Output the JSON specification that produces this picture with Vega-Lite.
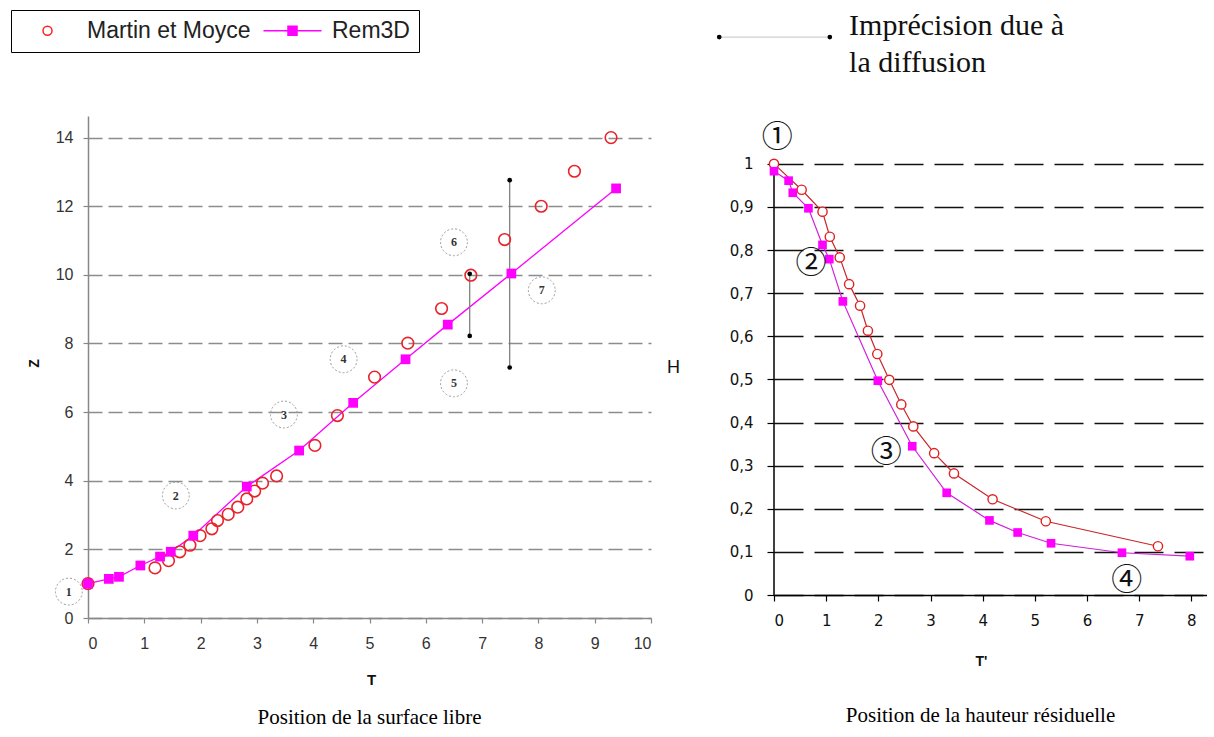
{
  "$schema": "https://vega.github.io/schema/vega-lite/v6.json",
  "background": "white",
  "padding": {"left": 10, "top": 9, "right": 0, "bottom": 0},
  "bounds": "flush",
  "spacing": 123,
  "config": {
    "view": {"stroke": null},
    "axis": {"labelFont": "Liberation Sans", "titleFont": "Liberation Sans"},
    "title": {"font": "Liberation Serif", "fontSize": 21, "fontWeight": "normal", "color": "black", "orient": "bottom", "anchor": "middle", "frame": "group"}
  },
  "hconcat": [
    {
      "width": 563,
      "height": 502,
      "title": {"text": "Position de la surface libre", "offset": 19},
      "layer": [
        {
          "data": {"values": [
            {"T": 0, "Z": 1.0}, {"T": 0.37, "Z": 1.14}, {"T": 0.55, "Z": 1.2}, {"T": 0.93, "Z": 1.53},
            {"T": 1.28, "Z": 1.79}, {"T": 1.47, "Z": 1.93}, {"T": 1.87, "Z": 2.4}, {"T": 2.82, "Z": 3.83},
            {"T": 3.75, "Z": 4.88}, {"T": 4.71, "Z": 6.27}, {"T": 5.64, "Z": 7.54}, {"T": 6.39, "Z": 8.55},
            {"T": 7.52, "Z": 10.04}, {"T": 9.38, "Z": 12.52}
          ]},
          "mark": {"type": "line", "color": "#ff00ff", "strokeWidth": 1.3},
          "encoding": {
            "x": {"field": "T", "type": "quantitative", "scale": {"domain": [0, 10], "nice": false, "zero": false},
              "axis": {"values": [0,1,2,3,4,5,6,7,8,9,10], "format": "d", "title": "T", "titleFontWeight": "bold", "titleFontSize": 15, "titleColor": "#111",
                "titleX": 283, "titleY": 61.5, "titleBaseline": "middle", "titleAlign": "center",
                "domainColor": "#888", "domainWidth": 1.5, "tickColor": "#888", "tickSize": 5, "tickWidth": 1.2,
                "labelPadding": 12, "labelFontSize": 16, "labelColor": "#333", "grid": false}},
            "y": {"field": "Z", "type": "quantitative", "scale": {"domain": [0, 14.63], "nice": false, "zero": false},
              "axis": {"values": [0,2,4,6,8,10,12,14], "format": "d", "title": "Z", "titleFontWeight": "bold", "titleFontSize": 14, "titleColor": "#111",
                "titleX": -54, "titleY": 247, "titleAngle": -90, "titleBaseline": "middle", "titleAlign": "center",
                "grid": true, "gridDash": [14, 6], "gridColor": "#8c8c8c", "gridWidth": 1.5,
                "domainColor": "#888", "domainWidth": 1.5, "tickColor": "#888", "tickSize": 5, "tickWidth": 1.2,
                "labelPadding": 10, "labelFontSize": 16, "labelColor": "#333"}}
          }
        },
        {
          "data": {"values": [
            {"T": 6.78, "Z": 8.22, "Z2": 10.03},
            {"T": 7.49, "Z": 7.3, "Z2": 12.76}
          ]},
          "mark": {"type": "rule", "color": "#777", "strokeWidth": 1.2},
          "encoding": {
            "x": {"field": "T", "type": "quantitative"},
            "y": {"field": "Z", "type": "quantitative"},
            "y2": {"field": "Z2"}
          }
        },
        {
          "data": {"values": [
            {"T": 6.78, "Z": 8.22}, {"T": 6.78, "Z": 10.03},
            {"T": 7.49, "Z": 7.3}, {"T": 7.49, "Z": 12.76}
          ]},
          "mark": {"type": "point", "filled": true, "color": "black", "size": 22, "opacity": 1},
          "encoding": {
            "x": {"field": "T", "type": "quantitative"},
            "y": {"field": "Z", "type": "quantitative"}
          }
        },
        {
          "data": {"values": [
            {"T": 0, "Z": 1.0}, {"T": 1.19, "Z": 1.46}, {"T": 1.43, "Z": 1.67}, {"T": 1.63, "Z": 1.93},
            {"T": 1.81, "Z": 2.12}, {"T": 1.99, "Z": 2.4}, {"T": 2.2, "Z": 2.6}, {"T": 2.3, "Z": 2.84},
            {"T": 2.49, "Z": 3.02}, {"T": 2.66, "Z": 3.23}, {"T": 2.82, "Z": 3.47}, {"T": 2.96, "Z": 3.7},
            {"T": 3.1, "Z": 3.93}, {"T": 3.35, "Z": 4.14}, {"T": 4.03, "Z": 5.03}, {"T": 4.43, "Z": 5.9},
            {"T": 5.09, "Z": 7.02}, {"T": 5.68, "Z": 8.01}, {"T": 6.28, "Z": 9.02}, {"T": 6.8, "Z": 9.99},
            {"T": 7.4, "Z": 11.03}, {"T": 8.05, "Z": 12.0}, {"T": 8.64, "Z": 13.02}, {"T": 9.29, "Z": 14.0}
          ]},
          "mark": {"type": "point", "shape": "circle", "size": 135, "filled": false, "stroke": "#e8232a", "strokeWidth": 1.6, "opacity": 1},
          "encoding": {
            "x": {"field": "T", "type": "quantitative"},
            "y": {"field": "Z", "type": "quantitative"}
          }
        },
        {
          "data": {"values": [
            {"T": 0, "Z": 1.0}, {"T": 0.37, "Z": 1.14}, {"T": 0.55, "Z": 1.2},
            {"T": 0.93, "Z": 1.53}, {"T": 1.28, "Z": 1.79}, {"T": 1.47, "Z": 1.93},
            {"T": 1.87, "Z": 2.4}, {"T": 2.82, "Z": 3.83}, {"T": 3.75, "Z": 4.88},
            {"T": 4.71, "Z": 6.27}, {"T": 5.64, "Z": 7.54}, {"T": 6.39, "Z": 8.55},
            {"T": 7.52, "Z": 10.04}, {"T": 9.38, "Z": 12.52}
          ]},
          "mark": {"type": "point", "shape": "square", "size": 95, "filled": true, "color": "#ff00ff", "opacity": 1},
          "encoding": {
            "x": {"field": "T", "type": "quantitative"},
            "y": {"field": "Z", "type": "quantitative"}
          }
        },
        {
          "data": {"values": []},
          "mark": {"type": "point", "opacity": 1},
          "encoding": {
            "x": {"field": "T", "type": "quantitative"},
            "y": {"field": "Z", "type": "quantitative"},
            "shape": {"field": "series", "type": "nominal",
              "scale": {"domain": ["Martin et Moyce", "Rem3D"], "range": ["M-2.9,0M-0.45,0A0.45,0.45,0,1,1,0.45,0A0.45,0.45,0,1,1,-0.45,0Z", "M-2.9,0H2.9M-0.45,-0.45H0.45V0.45H-0.45Z"]},
              "legend": {
                "title": null, "orient": "none", "legendX": -77, "legendY": -106, "direction": "horizontal",
                "strokeColor": "#000", "fillColor": "white", "padding": 9,
                "labelFont": "Liberation Sans", "labelFontSize": 23, "labelColor": "#222", "labelOffset": 28, "labelLimit": 400,
                "symbolOffset": 16, "columnPadding": 9, "symbolSize": 400, "symbolStrokeWidth": 1.5
              }},
            "fill": {"field": "series", "type": "nominal",
              "scale": {"domain": ["Martin et Moyce", "Rem3D"], "range": ["transparent", "#ff00ff"]}},
            "stroke": {"field": "series", "type": "nominal",
              "scale": {"domain": ["Martin et Moyce", "Rem3D"], "range": ["#ff2020", "#ff00ff"]}}
          }
        },
        {
          "data": {"values": [
            {"T": -0.34, "Z": 0.77, "label": "1"}, {"T": 1.56, "Z": 3.57, "label": "2"},
            {"T": 3.48, "Z": 5.93, "label": "3"}, {"T": 4.54, "Z": 7.54, "label": "4"},
            {"T": 6.5, "Z": 6.84, "label": "5"}, {"T": 6.5, "Z": 10.95, "label": "6"},
            {"T": 8.06, "Z": 9.55, "label": "7"}
          ]},
          "layer": [
            {
              "mark": {"type": "point", "shape": "circle", "size": 720, "filled": false, "stroke": "#9a9a9a", "strokeWidth": 1, "strokeDash": [2, 2], "opacity": 1},
              "encoding": {
                "x": {"field": "T", "type": "quantitative"},
                "y": {"field": "Z", "type": "quantitative"}
              }
            },
            {
              "mark": {"type": "text", "font": "Liberation Serif", "fontSize": 12, "fontWeight": "bold", "color": "#333", "baseline": "middle", "align": "center"},
              "encoding": {
                "x": {"field": "T", "type": "quantitative"},
                "y": {"field": "Z", "type": "quantitative"},
                "text": {"field": "label"}
              }
            }
          ]
        }
      ]
    },
    {
      "width": 433,
      "height": 479,
      "title": {"text": "Position de la hauteur résiduelle", "offset": 37, "dx": -10},
      "layer": [
        {
          "data": {"values": [{"T": 0, "H": 0, "H2": 1}]},
          "mark": {"type": "rule", "color": "black", "strokeWidth": 1.5},
          "encoding": {
            "x": {"field": "T", "type": "quantitative", "scale": {"domain": [0, 8.3], "nice": false, "zero": false},
              "axis": {"values": [0,1,2,3,4,5,6,7,8], "format": "d", "title": "T'", "titleFontWeight": "bold", "titleFontSize": 14, "titleColor": "#111",
                "titleX": 207, "titleY": 66, "titleBaseline": "middle", "titleAlign": "center",
                "domainColor": "black", "domainWidth": 1.5, "tickColor": "black", "tickSize": 6, "tickWidth": 1.2,
                "labelPadding": 12, "labelFont": "DejaVu Sans", "labelFontSize": 15, "labelColor": "#111", "grid": false}},
            "y": {"field": "H", "type": "quantitative", "scale": {"domain": [0, 1.111], "nice": false, "zero": false},
              "axis": {"values": [0,0.1,0.2,0.3,0.4,0.5,0.6,0.7,0.8,0.9,1], "labelExpr": "replace(format(datum.value, '~g'), '.', ',')",
                "title": "H", "titleFontWeight": "normal", "titleFontSize": 18, "titleColor": "#111",
                "titleX": -101, "titleY": 251, "titleAngle": 0, "titleBaseline": "middle", "titleAlign": "center",
                "domain": false, "grid": true, "gridDash": [29, 11], "gridColor": "#111", "gridWidth": 1.5,
                "tickColor": "black", "tickSize": 7, "tickWidth": 1.2,
                "labelPadding": 14, "labelFont": "DejaVu Sans", "labelFontSize": 15, "labelColor": "#111"}},
            "y2": {"field": "H2"}
          }
        },
        {
          "data": {"values": [
            {"T": 0, "H": 1.0}, {"T": 0.53, "H": 0.94}, {"T": 0.93, "H": 0.889}, {"T": 1.07, "H": 0.831},
            {"T": 1.26, "H": 0.783}, {"T": 1.44, "H": 0.721}, {"T": 1.65, "H": 0.671}, {"T": 1.8, "H": 0.613},
            {"T": 1.98, "H": 0.559}, {"T": 2.21, "H": 0.499}, {"T": 2.44, "H": 0.442}, {"T": 2.67, "H": 0.391},
            {"T": 3.07, "H": 0.329}, {"T": 3.45, "H": 0.282}, {"T": 4.19, "H": 0.222}, {"T": 5.21, "H": 0.171},
            {"T": 7.36, "H": 0.113}
          ]},
          "layer": [
            {"mark": {"type": "line", "color": "#c8262b", "strokeWidth": 1.2},
             "encoding": {"x": {"field": "T", "type": "quantitative"}, "y": {"field": "H", "type": "quantitative"}}},
            {"mark": {"type": "point", "shape": "circle", "size": 85, "filled": true, "fill": "white", "stroke": "#e02020", "strokeWidth": 1.4, "opacity": 1},
             "encoding": {"x": {"field": "T", "type": "quantitative"}, "y": {"field": "H", "type": "quantitative"}}}
          ]
        },
        {
          "data": {"values": [
            {"T": 0, "H": 0.983}, {"T": 0.28, "H": 0.961}, {"T": 0.36, "H": 0.933}, {"T": 0.66, "H": 0.897},
            {"T": 0.93, "H": 0.812}, {"T": 1.06, "H": 0.779}, {"T": 1.32, "H": 0.681}, {"T": 1.99, "H": 0.497},
            {"T": 2.65, "H": 0.345}, {"T": 3.31, "H": 0.237}, {"T": 4.13, "H": 0.173}, {"T": 4.67, "H": 0.145},
            {"T": 5.31, "H": 0.12}, {"T": 6.67, "H": 0.098}, {"T": 7.97, "H": 0.09}
          ]},
          "layer": [
            {"mark": {"type": "line", "color": "#d020d8", "strokeWidth": 1.2},
             "encoding": {"x": {"field": "T", "type": "quantitative"}, "y": {"field": "H", "type": "quantitative"}}},
            {"mark": {"type": "point", "shape": "square", "size": 75, "filled": true, "color": "#ff00ff", "opacity": 1},
             "encoding": {"x": {"field": "T", "type": "quantitative"}, "y": {"field": "H", "type": "quantitative"}}}
          ]
        },
        {
          "data": {"values": [
            {"T": 0.06, "H": 1.06, "label": "①"}, {"T": 0.71, "H": 0.768, "label": "②"},
            {"T": 2.15, "H": 0.33, "label": "③"}, {"T": 6.76, "H": 0.032, "label": "④"}
          ]},
          "mark": {"type": "text", "font": "Noto Sans CJK JP", "fontSize": 31, "color": "#111", "baseline": "middle", "align": "center"},
          "encoding": {
            "x": {"field": "T", "type": "quantitative"},
            "y": {"field": "H", "type": "quantitative"},
            "text": {"field": "label"}
          }
        },
        {
          "data": {"values": [{"T": -1.05, "T2": 1.07, "H": 1.294}]},
          "mark": {"type": "rule", "color": "#c4c4c4", "strokeWidth": 1},
          "encoding": {
            "x": {"field": "T", "type": "quantitative"},
            "x2": {"field": "T2"},
            "y": {"field": "H", "type": "quantitative"}
          }
        },
        {
          "data": {"values": [{"T": -1.05, "H": 1.294}, {"T": 1.07, "H": 1.294}]},
          "mark": {"type": "point", "filled": true, "color": "black", "size": 22, "opacity": 1},
          "encoding": {
            "x": {"field": "T", "type": "quantitative"},
            "y": {"field": "H", "type": "quantitative"}
          }
        },
        {
          "data": {"values": [
            {"T": 1.44, "H": 1.32, "label": "Imprécision due à"},
            {"T": 1.44, "H": 1.234, "label": "la diffusion"}
          ]},
          "mark": {"type": "text", "font": "Liberation Serif", "fontSize": 30, "color": "#111", "baseline": "middle", "align": "left"},
          "encoding": {
            "x": {"field": "T", "type": "quantitative"},
            "y": {"field": "H", "type": "quantitative"},
            "text": {"field": "label"}
          }
        }
      ]
    }
  ]
}
